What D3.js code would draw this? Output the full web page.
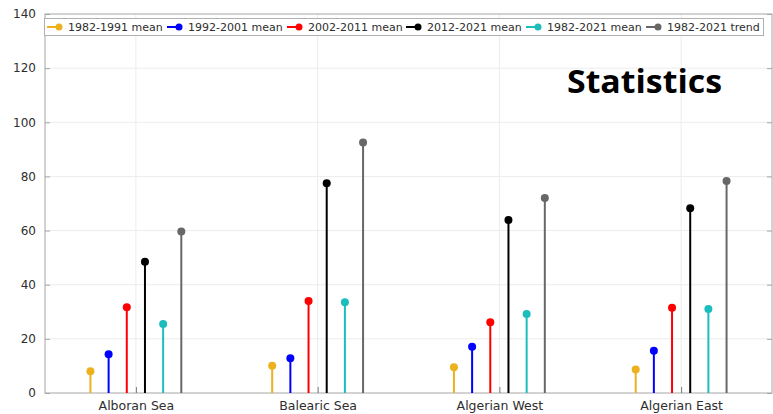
<!DOCTYPE html>
<html>
<head>
<meta charset="utf-8">
<script src="https://cdn.jsdelivr.net/npm/d3@7"></script>
<style>
  html, body { margin: 0; padding: 0; background: #fff; }
  svg { display: block; }
</style>
</head>
<body>
<svg id="chart" width="773" height="414"></svg>
<script>
// Regions along the x axis
const regions = ["Alboran Sea", "Balearic Sea", "Algerian West", "Algerian East"];

// Series names (legend order)
const seriesNames = ["1982-1991 mean", "1992-2001 mean", "2002-2011 mean",
                     "2012-2021 mean", "1982-2021 mean", "1982-2021 trend"];
const seriesColors = ["#EDB120", "#0000FF", "#FF0000", "#000000", "#1CBDBD", "#676767"];

// Values per series, one per region
const mean1982_1991 = [8.0, 10.1, 9.5, 8.7];
const mean1992_2001 = [14.3, 12.8, 17.1, 15.6];
const mean2002_2011 = [31.7, 34.0, 26.1, 31.5];
const mean2012_2021 = [48.5, 77.5, 63.9, 68.2];
const mean1982_2021 = [25.5, 33.5, 29.2, 31.0];
const trend1982_2021 = [59.7, 92.5, 72.0, 78.3];
const seriesValues = [mean1982_1991, mean1992_2001, mean2002_2011,
                      mean2012_2021, mean1982_2021, trend1982_2021];

// Stem offsets within a region group
const offsets = [-0.25, -0.15, -0.05, 0.05, 0.15, 0.25];

const yTicks = [0, 20, 40, 60, 80, 100, 120, 140];

const svg = d3.select("#chart");
const L = 45, R = 772, T = 14, B = 393;

const x = d3.scaleLinear().domain([0.5, 4.5]).range([L, R]);
const y = d3.scaleLinear().domain([0, 140]).range([B, T]);

const axisColor = "#a6a6a6";
const textColor = "#2e2e2e";
const gridColor = "#ececec";

// Grid lines
svg.append("g").selectAll("line").data(yTicks.slice(1, -1)).join("line")
  .attr("x1", L).attr("x2", R)
  .attr("y1", d => y(d)).attr("y2", d => y(d))
  .attr("stroke", gridColor).attr("stroke-width", 1);
svg.append("g").selectAll("line").data(regions).join("line")
  .attr("x1", (d, i) => x(i + 1)).attr("x2", (d, i) => x(i + 1))
  .attr("y1", T).attr("y2", B)
  .attr("stroke", gridColor).attr("stroke-width", 1);

// Box
svg.append("rect").attr("x", L).attr("y", T).attr("width", R - L).attr("height", B - T)
  .attr("fill", "none").attr("stroke", axisColor).attr("stroke-width", 1);

// Left axis
const yAxis = d3.axisLeft(y).tickValues(yTicks).tickSizeInner(-5).tickSizeOuter(0).tickPadding(9);
const gy = svg.append("g").attr("transform", `translate(${L},0)`).call(yAxis);
gy.select(".domain").remove();
gy.selectAll(".tick line").attr("stroke", axisColor);
gy.selectAll(".tick text").attr("fill", textColor)
  .style("font-family", "DejaVu Sans").style("font-size", "12px");

// Right axis ticks
const yAxisR = d3.axisRight(y).tickValues(yTicks).tickSizeInner(-5).tickSizeOuter(0).tickFormat("");
const gyr = svg.append("g").attr("transform", `translate(${R},0)`).call(yAxisR);
gyr.select(".domain").remove();
gyr.selectAll(".tick line").attr("stroke", axisColor);

// Bottom axis with category labels
const xAxis = d3.axisBottom(x).tickValues([1, 2, 3, 4]).tickSizeInner(-6).tickSizeOuter(0)
  .tickPadding(8).tickFormat(d => regions[d - 1]);
const gx = svg.append("g").attr("transform", `translate(0,${B})`).call(xAxis);
gx.select(".domain").remove();
gx.selectAll(".tick line").attr("stroke", "#777");
gx.selectAll(".tick text").attr("fill", textColor)
  .style("font-family", "DejaVu Sans").style("font-size", "12.5px");

// Stems
seriesValues.forEach((vals, s) => {
  const g = svg.append("g");
  g.selectAll("line").data(vals).join("line")
    .attr("x1", (d, i) => x(i + 1 + offsets[s])).attr("x2", (d, i) => x(i + 1 + offsets[s]))
    .attr("y1", y(0)).attr("y2", d => y(d))
    .attr("stroke", seriesColors[s]).attr("stroke-width", 2);
  g.selectAll("circle").data(vals).join("circle")
    .attr("cx", (d, i) => x(i + 1 + offsets[s])).attr("cy", d => y(d))
    .attr("r", 4).attr("fill", seriesColors[s]);
});

// Legend
const legend = svg.append("g");
legend.append("rect").attr("x", 44.5).attr("y", 18.5).attr("width", 719).attr("height", 17)
  .attr("fill", "#fff").attr("stroke", "#b0b0b0").attr("stroke-width", 1);
const itemX = [47, 167, 287, 406, 526, 646];
seriesNames.forEach((name, s) => {
  const gi = legend.append("g").attr("transform", `translate(${itemX[s]},27)`);
  gi.append("line").attr("x1", 0).attr("x2", 13).attr("y1", 0).attr("y2", 0)
    .attr("stroke", seriesColors[s]).attr("stroke-width", 2);
  gi.append("circle").attr("cx", 12).attr("cy", 0).attr("r", 3.5).attr("fill", seriesColors[s]);
  gi.append("text").attr("x", 21).attr("y", 4)
    .style("font-family", "DejaVu Sans").style("font-size", "11px")
    .attr("fill", textColor).text(name);
});

// Title label inside the plot
svg.append("text").attr("x", 567).attr("y", 93)
  .attr("textLength", 155).attr("lengthAdjust", "spacingAndGlyphs")
  .style("font-family", "Open Sans").style("font-weight", "bold").style("font-size", "33px")
  .attr("fill", "#000").text("Statistics");
</script>
</body>
</html>
